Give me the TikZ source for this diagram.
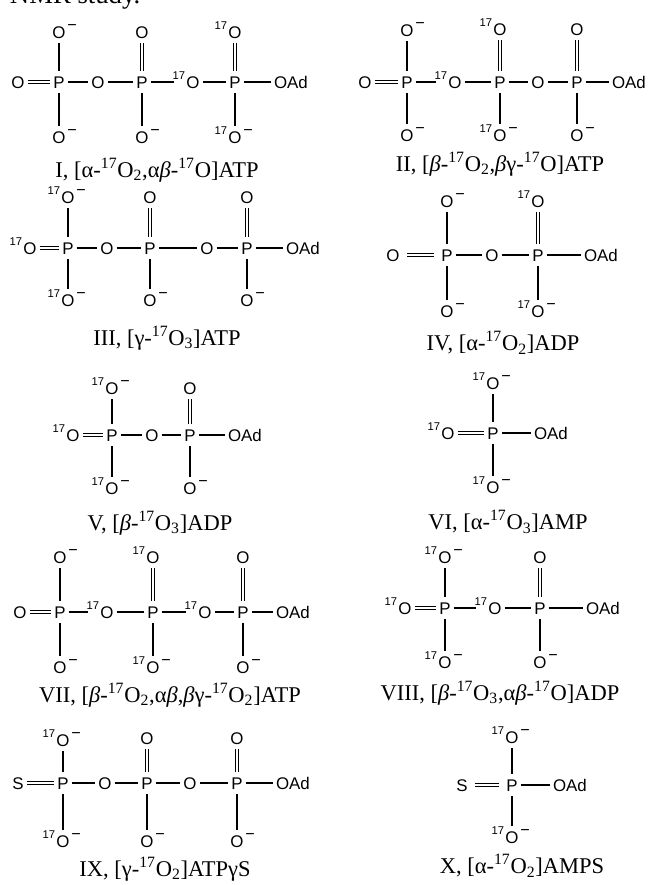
\documentclass[tikz,border=0pt]{standalone}
\usepackage{fontspec}
\setmainfont{Liberation Serif}
\newfontfamily\atomfont{Liberation Sans}
\tikzset{
  atom/.style = {font=\atomfont\fontsize{12}{14}\selectfont,
    inner xsep=2pt, inner ysep=3.5pt, text height=8.6pt, text depth=0pt},
  isotope/.style = {font=\atomfont\fontsize{8}{8}\selectfont, inner sep=0pt,
    text height=5.7pt, text depth=0pt, xshift=1.5pt, yshift=4.7pt},
  charge/.style = {font=\atomfont\fontsize{11.5}{11.5}\selectfont, inner sep=0pt,
    text height=4pt, text depth=0pt, xshift=-1.2pt, yshift=2.9pt},
  iso/.style = {label={[isotope]west:17}},
  neg/.style = {label={[charge]east:−}},
  bond/.style = {line width=0.75pt},
  toiso/.style = {bond, shorten >=6.5pt},
  dbl/.style = {double, double distance=1.5pt, line width=0.65pt},
  dblgap/.style = {dbl, shorten <=3pt, shorten >=3pt},
  cmpd/.style = {font=\fontsize{16}{19}\selectfont, inner sep=0pt}
}

\begin{document}
\begin{tikzpicture}[x=0.025cm, y=-0.025cm]
\useasboundingbox (0,0) rectangle (648,885);
\node[anchor=base west, font=\fontsize{19}{22}\selectfont] (head) at (5,4) {NMR study.};

% I
\node[atom] (I-o0) at (18,82) {O};
\node[atom] (I-p1) at (59,82) {P};
\node[atom] (I-o1) at (98,82) {O};
\node[atom] (I-p2) at (142,82) {P};
\node[atom, iso] (I-o2) at (193,82) {O};
\node[atom] (I-p3) at (235,82) {P};
\node[atom, anchor=west] (I-ad) at (271,82) {OAd};
\node[atom, neg] (I-t1) at (59,32) {O};
\node[atom] (I-t2) at (142,32) {O};
\node[atom, iso] (I-t3) at (235,32) {O};
\node[atom, neg] (I-b1) at (59,137) {O};
\node[atom, neg] (I-b2) at (142,137) {O};
\node[atom, iso, neg] (I-b3) at (235,137) {O};
\node[cmpd] (I-name) at (157,170) {I, [α-\textsuperscript{17}O\textsubscript{2},α\textit{β}-\textsuperscript{17}O]ATP};
\draw[dbl] (I-o0) -- (I-p1);
\draw[bond] (I-p1) -- (I-o1) -- (I-p2);
\draw[toiso] (I-p2) -- (I-o2);
\draw[bond] (I-o2) -- (I-p3) -- (I-ad);
\draw[bond] (I-t1) -- (I-p1) -- (I-b1);
\draw[dbl] (I-t2) -- (I-p2);
\draw[bond] (I-p2) -- (I-b2);
\draw[dbl] (I-t3) -- (I-p3);
\draw[bond] (I-p3) -- (I-b3);

% II
\node[atom] (II-o0) at (365,82) {O};
\node[atom] (II-p1) at (407,82) {P};
\node[atom, iso] (II-o1) at (455,82) {O};
\node[atom] (II-p2) at (500,82) {P};
\node[atom] (II-o2) at (538,82) {O};
\node[atom] (II-p3) at (577,82) {P};
\node[atom, anchor=west] (II-ad) at (609,82) {OAd};
\node[atom, neg] (II-t1) at (407,30) {O};
\node[atom, iso] (II-t2) at (500,29) {O};
\node[atom] (II-t3) at (577,29) {O};
\node[atom, neg] (II-b1) at (407,135) {O};
\node[atom, iso, neg] (II-b2) at (500,135) {O};
\node[atom, neg] (II-b3) at (577,135) {O};
\node[cmpd] (II-name) at (500,164) {II, [\textit{β}-\textsuperscript{17}O\textsubscript{2},\textit{β}γ-\textsuperscript{17}O]ATP};
\draw[dbl] (II-o0) -- (II-p1);
\draw[toiso] (II-p1) -- (II-o1);
\draw[bond] (II-o1) -- (II-p2) -- (II-o2) -- (II-p3) -- (II-ad);
\draw[bond] (II-t1) -- (II-p1) -- (II-b1);
\draw[dbl] (II-t2) -- (II-p2);
\draw[bond] (II-p2) -- (II-b2);
\draw[dbl] (II-t3) -- (II-p3);
\draw[bond] (II-p3) -- (II-b3);

% III
\node[atom, iso] (III-o0) at (30,248) {O};
\node[atom] (III-p1) at (68,248) {P};
\node[atom] (III-o1) at (107,248) {O};
\node[atom] (III-p2) at (150,248) {P};
\node[atom] (III-o2) at (207,248) {O};
\node[atom] (III-p3) at (247,248) {P};
\node[atom, anchor=west] (III-ad) at (283,248) {OAd};
\node[atom, iso, neg] (III-t1) at (68,197) {O};
\node[atom] (III-t2) at (150,197) {O};
\node[atom] (III-t3) at (247,197) {O};
\node[atom, iso, neg] (III-b1) at (68,300) {O};
\node[atom, neg] (III-b2) at (150,300) {O};
\node[atom, neg] (III-b3) at (247,300) {O};
\node[cmpd] (III-name) at (167,338) {III, [γ-\textsuperscript{17}O\textsubscript{3}]ATP};
\draw[dbl] (III-o0) -- (III-p1);
\draw[bond] (III-p1) -- (III-o1) -- (III-p2) -- (III-o2) -- (III-p3) -- (III-ad);
\draw[bond] (III-t1) -- (III-p1) -- (III-b1);
\draw[dbl] (III-t2) -- (III-p2);
\draw[bond] (III-p2) -- (III-b2);
\draw[dbl] (III-t3) -- (III-p3);
\draw[bond] (III-p3) -- (III-b3);

% IV
\node[atom] (IV-o0) at (393,255) {O};
\node[atom] (IV-p1) at (447,255) {P};
\node[atom] (IV-o1) at (492,255) {O};
\node[atom] (IV-p2) at (538,255) {P};
\node[atom, anchor=west] (IV-ad) at (581,255) {OAd};
\node[atom, neg] (IV-t1) at (447,201) {O};
\node[atom, iso] (IV-t2) at (538,201) {O};
\node[atom, neg] (IV-b1) at (447,311) {O};
\node[atom, iso, neg] (IV-b2) at (538,311) {O};
\node[cmpd] (IV-name) at (503,343) {IV, [α-\textsuperscript{17}O\textsubscript{2}]ADP};
\draw[dblgap] (IV-o0) -- (IV-p1);
\draw[bond] (IV-p1) -- (IV-o1) -- (IV-p2) -- (IV-ad);
\draw[bond] (IV-t1) -- (IV-p1) -- (IV-b1);
\draw[dbl] (IV-t2) -- (IV-p2);
\draw[bond] (IV-p2) -- (IV-b2);

% V
\node[atom, iso] (V-o0) at (73,435) {O};
\node[atom] (V-p1) at (112,435) {P};
\node[atom] (V-o1) at (152,435) {O};
\node[atom] (V-p2) at (190,435) {P};
\node[atom, anchor=west] (V-ad) at (225,435) {OAd};
\node[atom, iso, neg] (V-t1) at (112,388) {O};
\node[atom] (V-t2) at (190,388) {O};
\node[atom, iso, neg] (V-b1) at (112,488) {O};
\node[atom, neg] (V-b2) at (190,488) {O};
\node[cmpd] (V-name) at (160,523) {V, [\textit{β}-\textsuperscript{17}O\textsubscript{3}]ADP};
\draw[dbl] (V-o0) -- (V-p1);
\draw[bond] (V-p1) -- (V-o1) -- (V-p2) -- (V-ad);
\draw[bond] (V-t1) -- (V-p1) -- (V-b1);
\draw[dbl] (V-t2) -- (V-p2);
\draw[bond] (V-p2) -- (V-b2);

% VI
\node[atom, iso] (VI-o0) at (448,433) {O};
\node[atom] (VI-p1) at (493,433) {P};
\node[atom, anchor=west] (VI-ad) at (531,433) {OAd};
\node[atom, iso, neg] (VI-t1) at (493,383) {O};
\node[atom, iso, neg] (VI-b1) at (493,487) {O};
\node[cmpd] (VI-name) at (508,522) {VI, [α-\textsuperscript{17}O\textsubscript{3}]AMP};
\draw[dbl] (VI-o0) -- (VI-p1);
\draw[bond] (VI-p1) -- (VI-ad);
\draw[bond] (VI-t1) -- (VI-p1) -- (VI-b1);

% VII
\node[atom] (VII-o0) at (20,612) {O};
\node[atom] (VII-p1) at (60,612) {P};
\node[atom, iso] (VII-o1) at (107,612) {O};
\node[atom] (VII-p2) at (153,612) {P};
\node[atom, iso] (VII-o2) at (205,612) {O};
\node[atom] (VII-p3) at (243,612) {P};
\node[atom, anchor=west] (VII-ad) at (273,612) {OAd};
\node[atom, neg] (VII-t1) at (60,557) {O};
\node[atom, iso] (VII-t2) at (153,557) {O};
\node[atom] (VII-t3) at (243,557) {O};
\node[atom, neg] (VII-b1) at (60,667) {O};
\node[atom, iso, neg] (VII-b2) at (153,667) {O};
\node[atom, neg] (VII-b3) at (243,667) {O};
\node[cmpd] (VII-name) at (170,695) {VII, [\textit{β}-\textsuperscript{17}O\textsubscript{2},α\textit{β},\textit{β}γ-\textsuperscript{17}O\textsubscript{2}]ATP};
\draw[dbl] (VII-o0) -- (VII-p1);
\draw[toiso] (VII-p1) -- (VII-o1);
\draw[toiso] (VII-p2) -- (VII-o2);
\draw[bond] (VII-o1) -- (VII-p2);
\draw[bond] (VII-o2) -- (VII-p3) -- (VII-ad);
\draw[bond] (VII-t1) -- (VII-p1) -- (VII-b1);
\draw[dbl] (VII-t2) -- (VII-p2);
\draw[bond] (VII-p2) -- (VII-b2);
\draw[dbl] (VII-t3) -- (VII-p3);
\draw[bond] (VII-p3) -- (VII-b3);

% VIII
\node[atom, iso] (VIII-o0) at (405,608) {O};
\node[atom] (VIII-p1) at (445,608) {P};
\node[atom, iso] (VIII-o1) at (495,608) {O};
\node[atom] (VIII-p2) at (540,608) {P};
\node[atom, anchor=west] (VIII-ad) at (583,608) {OAd};
\node[atom, iso, neg] (VIII-t1) at (445,557) {O};
\node[atom] (VIII-t2) at (540,557) {O};
\node[atom, iso, neg] (VIII-b1) at (445,662) {O};
\node[atom, neg] (VIII-b2) at (540,662) {O};
\node[cmpd] (VIII-name) at (500,693) {VIII, [\textit{β}-\textsuperscript{17}O\textsubscript{3},α\textit{β}-\textsuperscript{17}O]ADP};
\draw[dbl] (VIII-o0) -- (VIII-p1);
\draw[toiso] (VIII-p1) -- (VIII-o1);
\draw[bond] (VIII-o1) -- (VIII-p2) -- (VIII-ad);
\draw[bond] (VIII-t1) -- (VIII-p1) -- (VIII-b1);
\draw[dbl] (VIII-t2) -- (VIII-p2);
\draw[bond] (VIII-p2) -- (VIII-b2);

% IX
\node[atom] (IX-s) at (18,783) {S};
\node[atom] (IX-p1) at (63,783) {P};
\node[atom] (IX-o1) at (105,783) {O};
\node[atom] (IX-p2) at (147,783) {P};
\node[atom] (IX-o2) at (190,783) {O};
\node[atom] (IX-p3) at (237,783) {P};
\node[atom, anchor=west] (IX-ad) at (273,783) {OAd};
\node[atom, iso, neg] (IX-t1) at (63,740) {O};
\node[atom] (IX-t2) at (147,738) {O};
\node[atom] (IX-t3) at (237,738) {O};
\node[atom, iso, neg] (IX-b1) at (63,841) {O};
\node[atom, neg] (IX-b2) at (147,841) {O};
\node[atom, neg] (IX-b3) at (237,841) {O};
\node[cmpd] (IX-name) at (165,869) {IX, [γ-\textsuperscript{17}O\textsubscript{2}]ATPγS};
\draw[dbl] (IX-s) -- (IX-p1);
\draw[bond] (IX-p1) -- (IX-o1) -- (IX-p2) -- (IX-o2) -- (IX-p3) -- (IX-ad);
\draw[bond] (IX-t1) -- (IX-p1) -- (IX-b1);
\draw[dbl] (IX-t2) -- (IX-p2);
\draw[bond] (IX-p2) -- (IX-b2);
\draw[dbl] (IX-t3) -- (IX-p3);
\draw[bond] (IX-p3) -- (IX-b3);

% X
\node[atom] (X-s) at (462,785) {S};
\node[atom] (X-p1) at (512,785) {P};
\node[atom, anchor=west] (X-ad) at (550,785) {OAd};
\node[atom, iso, neg] (X-t1) at (512,737) {O};
\node[atom, iso, neg] (X-b1) at (512,837) {O};
\node[cmpd] (X-name) at (522,866) {X, [α-\textsuperscript{17}O\textsubscript{2}]AMPS};
\draw[dblgap] (X-s) -- (X-p1);
\draw[bond] (X-p1) -- (X-ad);
\draw[bond] (X-t1) -- (X-p1) -- (X-b1);
\end{tikzpicture}
\end{document}
